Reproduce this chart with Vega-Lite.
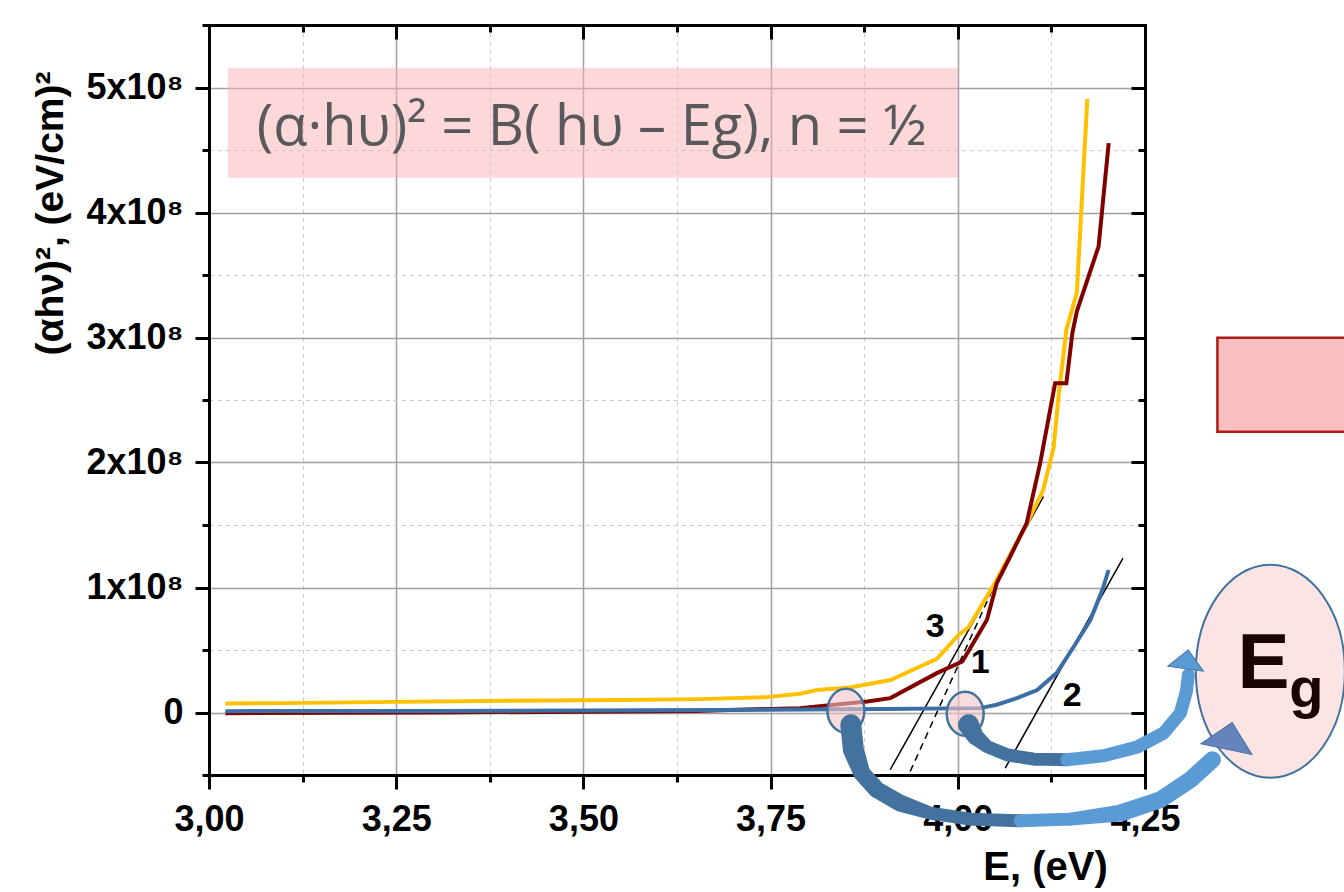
{
  "$schema": "https://vega.github.io/schema/vega-lite/v6.json",
  "width": 936,
  "height": 750,
  "autosize": {"type": "none"},
  "padding": {"left": 209, "top": 25, "right": 199, "bottom": 117},
  "background": "white",
  "config": {"view": {"stroke": null}, "axis": {"zindex": 0}},
  "datasets": {
    "curves": [
      {"s": "3", "E": 3.022, "v": 7.2e6}, {"s": "3", "E": 3.10, "v": 7.5e6}, {"s": "3", "E": 3.25, "v": 8.5e6}, {"s": "3", "E": 3.40, "v": 9.4e6}, {"s": "3", "E": 3.55, "v": 1.0e7}, {"s": "3", "E": 3.656, "v": 1.07e7}, {"s": "3", "E": 3.745, "v": 1.23e7}, {"s": "3", "E": 3.789, "v": 1.5e7}, {"s": "3", "E": 3.812, "v": 1.8e7}, {"s": "3", "E": 3.856, "v": 2.0e7}, {"s": "3", "E": 3.910, "v": 2.6e7}, {"s": "3", "E": 3.972, "v": 4.3e7}, {"s": "3", "E": 4.001, "v": 6.2e7}, {"s": "3", "E": 4.014, "v": 6.8e7}, {"s": "3", "E": 4.050, "v": 1.04e8}, {"s": "3", "E": 4.093, "v": 1.52e8}, {"s": "3", "E": 4.114, "v": 1.78e8}, {"s": "3", "E": 4.128, "v": 2.12e8}, {"s": "3", "E": 4.134, "v": 2.5e8}, {"s": "3", "E": 4.145, "v": 3.06e8}, {"s": "3", "E": 4.159, "v": 3.36e8}, {"s": "3", "E": 4.173, "v": 4.91e8},
      {"s": "1", "E": 3.022, "v": -5e5}, {"s": "1", "E": 3.30, "v": 0}, {"s": "1", "E": 3.50, "v": 6e5}, {"s": "1", "E": 3.65, "v": 1.2e6}, {"s": "1", "E": 3.789, "v": 3.5e6}, {"s": "1", "E": 3.879, "v": 8.8e6}, {"s": "1", "E": 3.910, "v": 1.15e7}, {"s": "1", "E": 3.972, "v": 3.15e7}, {"s": "1", "E": 4.006, "v": 4.08e7}, {"s": "1", "E": 4.014, "v": 4.88e7}, {"s": "1", "E": 4.039, "v": 7.42e7}, {"s": "1", "E": 4.052, "v": 1.035e8}, {"s": "1", "E": 4.070, "v": 1.248e8}, {"s": "1", "E": 4.092, "v": 1.515e8}, {"s": "1", "E": 4.110, "v": 1.995e8}, {"s": "1", "E": 4.130, "v": 2.635e8}, {"s": "1", "E": 4.145, "v": 2.635e8}, {"s": "1", "E": 4.153, "v": 3.035e8}, {"s": "1", "E": 4.159, "v": 3.21e8}, {"s": "1", "E": 4.188, "v": 3.728e8}, {"s": "1", "E": 4.2015, "v": 4.555e8},
      {"s": "2", "E": 3.022, "v": 1.1e6}, {"s": "2", "E": 3.30, "v": 1.3e6}, {"s": "2", "E": 3.68, "v": 2.0e6}, {"s": "2", "E": 3.90, "v": 2.8e6}, {"s": "2", "E": 4.030, "v": 3.5e6}, {"s": "2", "E": 4.052, "v": 6.2e6}, {"s": "2", "E": 4.079, "v": 1.15e7}, {"s": "2", "E": 4.106, "v": 1.8e7}, {"s": "2", "E": 4.132, "v": 3.15e7}, {"s": "2", "E": 4.155, "v": 5.28e7}, {"s": "2", "E": 4.177, "v": 7.4e7}, {"s": "2", "E": 4.193, "v": 9.8e7}, {"s": "2", "E": 4.2014, "v": 1.14e8}
    ],
    "tangents": [
      {"t": "3", "E": 3.9097, "v": -4.58e7}, {"t": "3", "E": 4.1145, "v": 1.728e8},
      {"t": "2", "E": 4.0633, "v": -4.45e7}, {"t": "2", "E": 4.2206, "v": 1.235e8},
      {"t": "1", "E": 3.9364, "v": -4.72e7}, {"t": "1", "E": 4.0522, "v": 1.062e8}
    ],
    "formulaBox": [{"E": 3.025, "E2": 4.0005, "v": 4.278e8, "v2": 5.158e8}],
    "formula": [{"E": 3.5108, "v": 4.68e8, "label": "(α·hυ)² = B( hυ – Eg), n = ½"}],
    "curveLabels": [
      {"E": 3.9697, "v": 6.86e7, "label": "3"},
      {"E": 4.0299, "v": 3.98e7, "label": "1"},
      {"E": 4.1529, "v": 1.34e7, "label": "2"}
    ],
    "sideBox": [{"E": 4.3467, "E2": 4.56, "v": 2.246e8, "v2": 2.998e8}],
    "smallEllipses": [{"E": 3.8506, "v": 1.4e6}, {"E": 4.0099, "v": -1.0e6}],
    "bigEllipse": [{"E": 4.4174, "v": 3.3e7}],
    "egE": [{"E": 4.4084, "v": 1.97e7, "label": "E"}],
    "egG": [{"E": 4.4655, "v": 4.6e6, "label": "g"}],
    "arrows": [
      {"seg": "A1", "i": 1, "w": "thick", "E": 3.8571, "v": -9.8e6},
      {"seg": "A1", "i": 2, "w": "thick", "E": 3.8606, "v": -2.98e7},
      {"seg": "A1", "i": 3, "w": "medium", "E": 3.8718, "v": -4.85e7},
      {"seg": "A1", "i": 4, "w": "medium", "E": 3.8919, "v": -6.18e7},
      {"seg": "A1", "i": 5, "w": "medium", "E": 3.9230, "v": -7.25e7},
      {"seg": "A1", "i": 6, "w": "thin", "E": 3.9631, "v": -8.05e7},
      {"seg": "A1", "i": 7, "w": "thin", "E": 4.0166, "v": -8.53e7},
      {"seg": "A1", "i": 8, "w": "thin", "E": 4.0834, "v": -8.66e7},
      {"seg": "A2", "i": 8, "w": "thin", "E": 4.0834, "v": -8.66e7},
      {"seg": "A2", "i": 9, "w": "thin", "E": 4.1502, "v": -8.53e7},
      {"seg": "A2", "i": 10, "w": "medium", "E": 4.2170, "v": -8.05e7},
      {"seg": "A2", "i": 11, "w": "medium", "E": 4.2705, "v": -6.98e7},
      {"seg": "A2", "i": 12, "w": "medium", "E": 4.3106, "v": -5.38e7},
      {"seg": "A2", "i": 13, "w": "medium", "E": 4.3400, "v": -3.78e7},
      {"seg": "B1", "i": 1, "w": "thick", "E": 4.0143, "v": -9.8e6},
      {"seg": "B1", "i": 2, "w": "medium", "E": 4.0233, "v": -1.92e7},
      {"seg": "B1", "i": 3, "w": "thin", "E": 4.0389, "v": -2.72e7},
      {"seg": "B1", "i": 4, "w": "thin", "E": 4.0656, "v": -3.38e7},
      {"seg": "B1", "i": 5, "w": "thin", "E": 4.1012, "v": -3.73e7},
      {"seg": "B1", "i": 6, "w": "thin", "E": 4.1458, "v": -3.78e7},
      {"seg": "B2", "i": 6, "w": "thin", "E": 4.1458, "v": -3.78e7},
      {"seg": "B2", "i": 7, "w": "thin", "E": 4.1947, "v": -3.46e7},
      {"seg": "B2", "i": 8, "w": "thin", "E": 4.2393, "v": -2.77e7},
      {"seg": "B2", "i": 9, "w": "thin", "E": 4.2749, "v": -1.65e7},
      {"seg": "B2", "i": 10, "w": "thin", "E": 4.2972, "v": -5e5},
      {"seg": "B2", "i": 11, "w": "thin", "E": 4.3052, "v": 1.66e7},
      {"seg": "B2", "i": 12, "w": "thin", "E": 4.3079, "v": 3.02e7}
    ],
    "headA": [{"E": 4.3624, "v": -1.92e7}],
    "headB": [{"E": 4.3059, "v": 4.22e7}]
  },
  "resolve": {"axis": {"x": "independent", "y": "independent"}, "scale": {"color": "independent", "size": "independent"}},
  "encoding": {
    "x": {"field": "E", "type": "quantitative", "scale": {"domain": [3, 4.25], "nice": false, "zero": false}, "axis": null},
    "y": {"field": "v", "type": "quantitative", "scale": {"domain": [-5e7, 5.5e8], "nice": false, "zero": false}, "axis": null}
  },
  "layer": [
    {
      "data": {"name": "formulaBox"},
      "mark": {"type": "rect", "fill": "#fcb1b5", "opacity": 0.5},
      "encoding": {
        "x": {"field": "E", "type": "quantitative", "scale": {"domain": [3, 4.25], "nice": false, "zero": false},
          "axis": {"orient": "bottom", "values": [3.125, 3.375, 3.625, 3.875, 4.125], "labels": false, "title": null, "domain": false, "tickSize": 7, "tickWidth": 3, "tickColor": "#000000", "grid": true, "gridColor": "#c8c8c8", "gridWidth": 1, "gridDash": [4, 4], "zindex": 0}},
        "x2": {"field": "E2"},
        "y": {"field": "v", "type": "quantitative", "scale": {"domain": [-5e7, 5.5e8], "nice": false, "zero": false},
          "axis": {"orient": "left", "values": [-5e7, 5e7, 1.5e8, 2.5e8, 3.5e8, 4.5e8, 5.5e8], "labels": false, "title": null, "domain": false, "tickSize": 7, "tickWidth": 3, "tickColor": "#000000", "grid": true, "gridColor": "#c8c8c8", "gridWidth": 1, "gridDash": [4, 4], "zindex": 0}},
        "y2": {"field": "v2"}
      }
    },
    {
      "data": {"name": "formula"},
      "mark": {"type": "text", "font": "Open Sans", "fontSize": 56, "color": "#595959", "align": "center", "baseline": "middle"},
      "encoding": {"text": {"field": "label"}}
    },
    {
      "data": {"name": "sideBox"},
      "mark": {"type": "rect", "fill": "#f9c0c0", "stroke": "#b01a1a", "strokeWidth": 2.5},
      "encoding": {"x2": {"field": "E2"}, "y2": {"field": "v2"}}
    },
    {
      "data": {"name": "tangents"},
      "transform": [{"filter": "datum.t != '1'"}],
      "mark": {"type": "line", "color": "#000000", "strokeWidth": 1.5},
      "encoding": {
        "x": {"field": "E", "type": "quantitative", "scale": {"domain": [3, 4.25], "nice": false, "zero": false},
          "axis": {"orient": "top", "values": [3, 3.25, 3.5, 3.75, 4, 4.25], "labels": false, "title": null, "domain": true, "domainWidth": 3, "domainColor": "#000000", "domainCap": "square", "tickSize": -14, "tickWidth": 3, "tickColor": "#000000", "grid": false, "zindex": 0}},
        "y": {"field": "v", "type": "quantitative", "scale": {"domain": [-5e7, 5.5e8], "nice": false, "zero": false},
          "axis": {"orient": "right", "values": [0, 1e8, 2e8, 3e8, 4e8, 5e8], "labels": false, "title": null, "domain": true, "domainWidth": 3, "domainColor": "#000000", "domainCap": "square", "tickSize": -14, "tickWidth": 3, "tickColor": "#000000", "grid": false, "zindex": 0}},
        "detail": {"field": "t"}
      }
    },
    {
      "data": {"name": "tangents"},
      "transform": [{"filter": "datum.t == '1'"}],
      "mark": {"type": "line", "color": "#000000", "strokeWidth": 1.5, "strokeDash": [7, 5]},
      "encoding": {
        "x": {"field": "E", "type": "quantitative", "scale": {"domain": [3, 4.25], "nice": false, "zero": false},
          "axis": {"orient": "top", "values": [3.125, 3.375, 3.625, 3.875, 4.125], "labels": false, "title": null, "domain": false, "tickSize": -7, "tickWidth": 3, "tickColor": "#000000", "grid": false, "zindex": 0}},
        "y": {"field": "v", "type": "quantitative", "scale": {"domain": [-5e7, 5.5e8], "nice": false, "zero": false},
          "axis": {"orient": "right", "values": [-5e7, 5e7, 1.5e8, 2.5e8, 3.5e8, 4.5e8, 5.5e8], "labels": false, "title": null, "domain": false, "tickSize": -7, "tickWidth": 3, "tickColor": "#000000", "grid": false, "zindex": 0}}
      }
    },
    {
      "data": {"name": "curves"},
      "mark": {"type": "line", "strokeWidth": 4},
      "encoding": {
        "x": {"field": "E", "type": "quantitative", "scale": {"domain": [3, 4.25], "nice": false, "zero": false},
          "axis": {"orient": "bottom", "values": [3, 3.25, 3.5, 3.75, 4, 4.25], "labelExpr": "replace(format(datum.value, '.2f'), '.', ',')", "labelFont": "Liberation Sans", "labelFontSize": 36, "labelFontWeight": "bold", "labelColor": "#000000", "labelPadding": 13, "labelFlush": false, "labelOverlap": false, "domain": true, "domainWidth": 3, "domainColor": "#000000", "domainCap": "square", "tickSize": 14, "tickWidth": 3, "tickColor": "#000000", "grid": true, "gridColor": "#a0a0a0", "gridWidth": 1.5,
            "title": "E, (eV)", "titleFont": "Liberation Sans", "titleFontSize": 40, "titleFontWeight": "bold", "titleColor": "#000000", "titleX": 836, "titleY": 104, "titleAlign": "center", "titleBaseline": "alphabetic", "titleAngle": 0, "zindex": 0}},
        "y": {"field": "v", "type": "quantitative", "scale": {"domain": [-5e7, 5.5e8], "nice": false, "zero": false},
          "axis": {"orient": "left", "values": [0, 1e8, 2e8, 3e8, 4e8, 5e8], "labelExpr": "datum.value == 0 ? '0' : format(datum.value / 1e8, 'd') + 'x10⁸'", "labelFont": "Liberation Sans", "labelFontSize": 36, "labelFontWeight": "bold", "labelColor": "#000000", "labelPadding": 12, "labelFlush": false, "labelOverlap": false, "domain": true, "domainWidth": 3, "domainColor": "#000000", "domainCap": "square", "tickSize": 14, "tickWidth": 3, "tickColor": "#000000", "grid": true, "gridColor": "#a0a0a0", "gridWidth": 1.5,
            "title": "(αhν)², (eV/cm)²", "titleFont": "Liberation Sans", "titleFontSize": 39, "titleFontWeight": "bold", "titleColor": "#000000", "titleX": -147, "titleY": 188, "titleAlign": "center", "titleBaseline": "alphabetic", "titleAngle": -90, "zindex": 0}},
        "color": {"field": "s", "type": "nominal", "scale": {"domain": ["3", "1", "2"], "range": ["#ffc000", "#800000", "#3b6ea5"]}, "legend": null}
      }
    },
    {
      "data": {"name": "curveLabels"},
      "mark": {"type": "text", "font": "Liberation Sans", "fontWeight": "bold", "fontSize": 34, "color": "#000000", "align": "center", "baseline": "middle"},
      "encoding": {"text": {"field": "label"}}
    },
    {
      "data": {"name": "smallEllipses"},
      "mark": {"type": "point", "shape": "M0.84,0 C0.84,0.5523 0.464,1 0,1 C-0.464,1 -0.84,0.5523 -0.84,0 C-0.84,-0.5523 -0.464,-1 0,-1 C0.464,-1 0.84,-0.5523 0.84,0 Z", "size": 1936, "filled": true, "fill": "#f4c4c6", "fillOpacity": 0.6, "stroke": "#41719c", "strokeWidth": 2.5, "opacity": 1}
    },
    {
      "data": {"name": "bigEllipse"},
      "mark": {"type": "point", "shape": "M0.70,0 C0.70,0.5523 0.3866,1 0,1 C-0.3866,1 -0.70,0.5523 -0.70,0 C-0.70,-0.5523 -0.3866,-1 0,-1 C0.3866,-1 0.70,-0.5523 0.70,0 Z", "size": 45369, "filled": true, "fill": "#fce4e4", "fillOpacity": 1, "stroke": "#41719c", "strokeWidth": 2, "opacity": 1}
    },
    {
      "data": {"name": "egE"},
      "mark": {"type": "text", "font": "Liberation Sans", "fontWeight": "bold", "fontSize": 78, "color": "#1c0202", "align": "center", "baseline": "alphabetic"},
      "encoding": {"text": {"field": "label"}}
    },
    {
      "data": {"name": "egG"},
      "mark": {"type": "text", "font": "Liberation Sans", "fontWeight": "bold", "fontSize": 56, "color": "#1c0202", "align": "center", "baseline": "alphabetic"},
      "encoding": {"text": {"field": "label"}}
    },
    {
      "data": {"name": "arrows"},
      "mark": {"type": "trail", "opacity": 1},
      "encoding": {
        "order": {"field": "i", "type": "quantitative"},
        "color": {"field": "seg", "type": "nominal", "scale": {"domain": ["A1", "A2", "B1", "B2"], "range": ["#44729f", "#5b9bd5", "#44729f", "#5b9bd5"]}, "legend": null},
        "size": {"field": "w", "type": "ordinal", "scale": {"domain": ["thick", "medium", "thin"], "range": [21, 13, 7]}, "legend": null}
      }
    },
    {
      "data": {"name": "headA"},
      "mark": {"type": "point", "shape": "M0,-0.55 L1,0.5 L-1,0.5 Z", "size": 2704, "angle": 12, "filled": true, "fill": "#6584bd", "stroke": "#41719c", "strokeWidth": 1, "opacity": 1}
    },
    {
      "data": {"name": "headB"},
      "mark": {"type": "point", "shape": "M0,-0.55 L1,0.5 L-1,0.5 Z", "size": 1296, "angle": 8, "filled": true, "fill": "#5b9bd5", "stroke": "#41719c", "strokeWidth": 1, "opacity": 1}
    }
  ]
}
